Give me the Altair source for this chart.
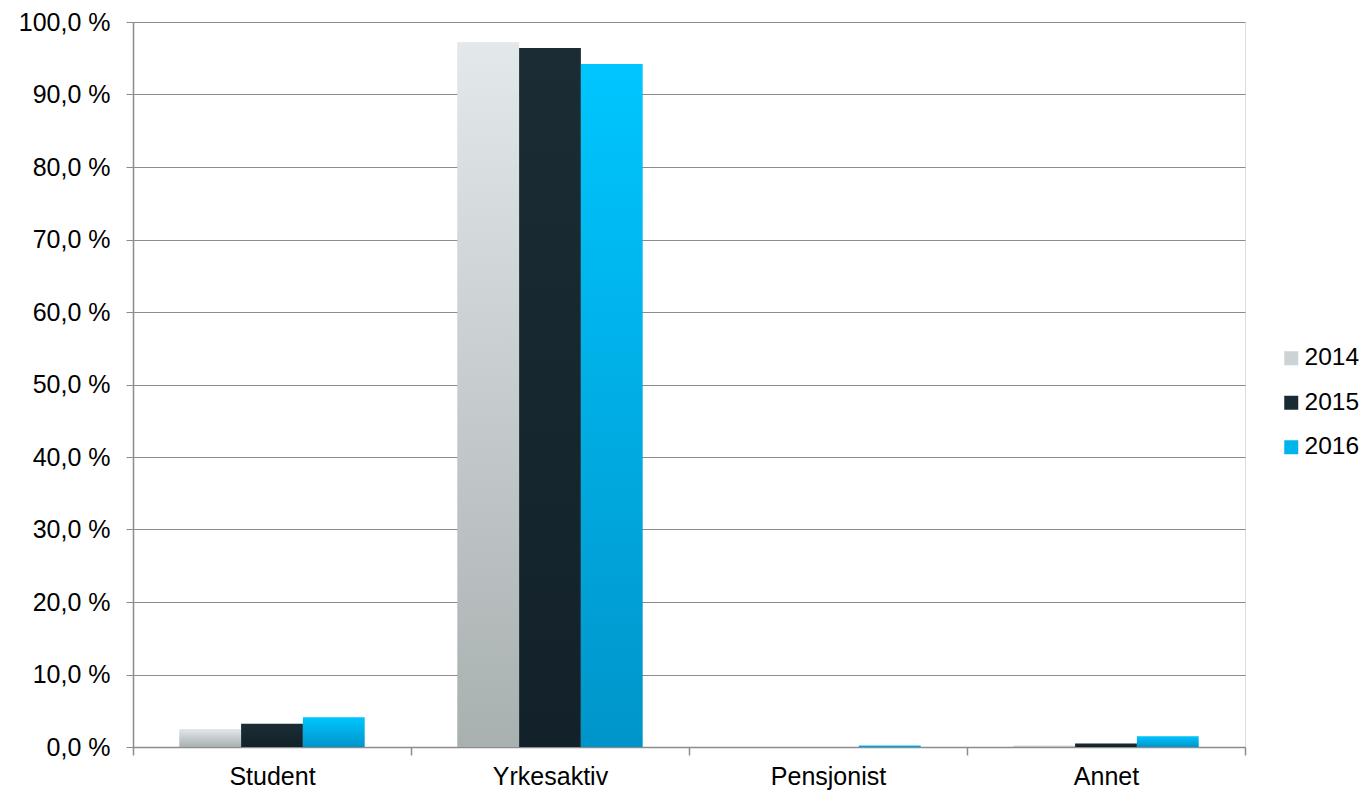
import altair as alt
import pandas as pd

categories = ["Student", "Yrkesaktiv", "Pensjonist", "Annet"]
years = ["2014", "2015", "2016"]
v2014 = [2.5, 97.2, 0.0, 0.2]
v2015 = [3.2, 96.4, 0.0, 0.5]
v2016 = [4.1, 94.2, 0.2, 1.5]

rows = []
for i, c in enumerate(categories):
    rows.append({"kat": c, "år": "2014", "verdi": v2014[i]})
    rows.append({"kat": c, "år": "2015", "verdi": v2015[i]})
    rows.append({"kat": c, "år": "2016", "verdi": v2016[i]})
df = pd.DataFrame(rows)

FONT = "Liberation Sans"
FS = 25

stops = {
    "2014": ("#E3E8EB", "#A9B0B0"),
    "2015": ("#1B2C34", "#13222A"),
    "2016": ("#00C6FF", "#0095CA"),
}


def grad(yr):
    a, b = stops[yr]
    return alt.Gradient(gradient="linear", x1=0, x2=0, y1=0, y2=1,
                        stops=[alt.GradientStop(color=a, offset=0),
                               alt.GradientStop(color=b, offset=1)])


x_enc = alt.X("kat:N", sort=categories, title=None,
              scale=alt.Scale(paddingInner=0, paddingOuter=0),
              axis=alt.Axis(labelAngle=0, labelFont=FONT, labelFontSize=FS,
                            labelColor="#000000", domainColor="#8C8C8C",
                            domainWidth=1.5, tickColor="#8C8C8C", tickWidth=1.5,
                            tickSize=8, tickBand="extent", labelPadding=9,
                            grid=False))
y_enc = alt.Y("verdi:Q", title=None,
              scale=alt.Scale(domain=[0, 100], nice=False),
              axis=alt.Axis(values=list(range(0, 101, 10)),
                            labelExpr="replace(format(datum.value, '.1f'), '.', ',') + ' %'",
                            labelFont=FONT, labelFontSize=FS, labelColor="#000000",
                            domainColor="#8C8C8C", domainWidth=1.5,
                            tickColor="#8C8C8C", tickSize=7, labelPadding=16,
                            gridColor="#8C8C8C", gridWidth=1))
xo = alt.XOffset("år:N", scale=alt.Scale(domain=years, paddingInner=0, paddingOuter=0.75))

base = alt.Chart(df)

# soft shadow layer
shadow = base.mark_bar(color="#000000", opacity=0.07, xOffset=3).encode(
    x=x_enc, xOffset=xo, y=y_enc)

layers = [shadow]
for yr in years:
    layers.append(
        base.transform_filter(alt.datum["år"] == yr)
        .mark_bar(color=grad(yr))
        .encode(x=x_enc, xOffset=xo, y=y_enc)
    )

legend_layer = base.mark_square(opacity=0, size=0).encode(
    color=alt.Color("år:N",
                    scale=alt.Scale(domain=years, range=["#CDD3D5", "#1A2A32", "#00B4EC"]),
                    legend=alt.Legend(title=None, orient="none", legendX=1146, legendY=324,
                                      padding=0, symbolType="square", symbolSize=196,
                                      symbolOpacity=1, symbolStrokeWidth=0,
                                      labelFont=FONT, labelFontSize=24.5,
                                      labelColor="#000000", rowPadding=19.5,
                                      labelOffset=1))
)
layers.append(legend_layer)

chart = alt.layer(*layers).properties(
    width=1112, height=725,
    autosize=alt.AutoSizeParams(type="none"),
    padding={"left": 125, "top": 14, "right": 117, "bottom": 44},
).configure_view(stroke=None).configure(background="#FFFFFF")

chart.save("out.html", embed_options={"renderer": "svg", "actions": False})
